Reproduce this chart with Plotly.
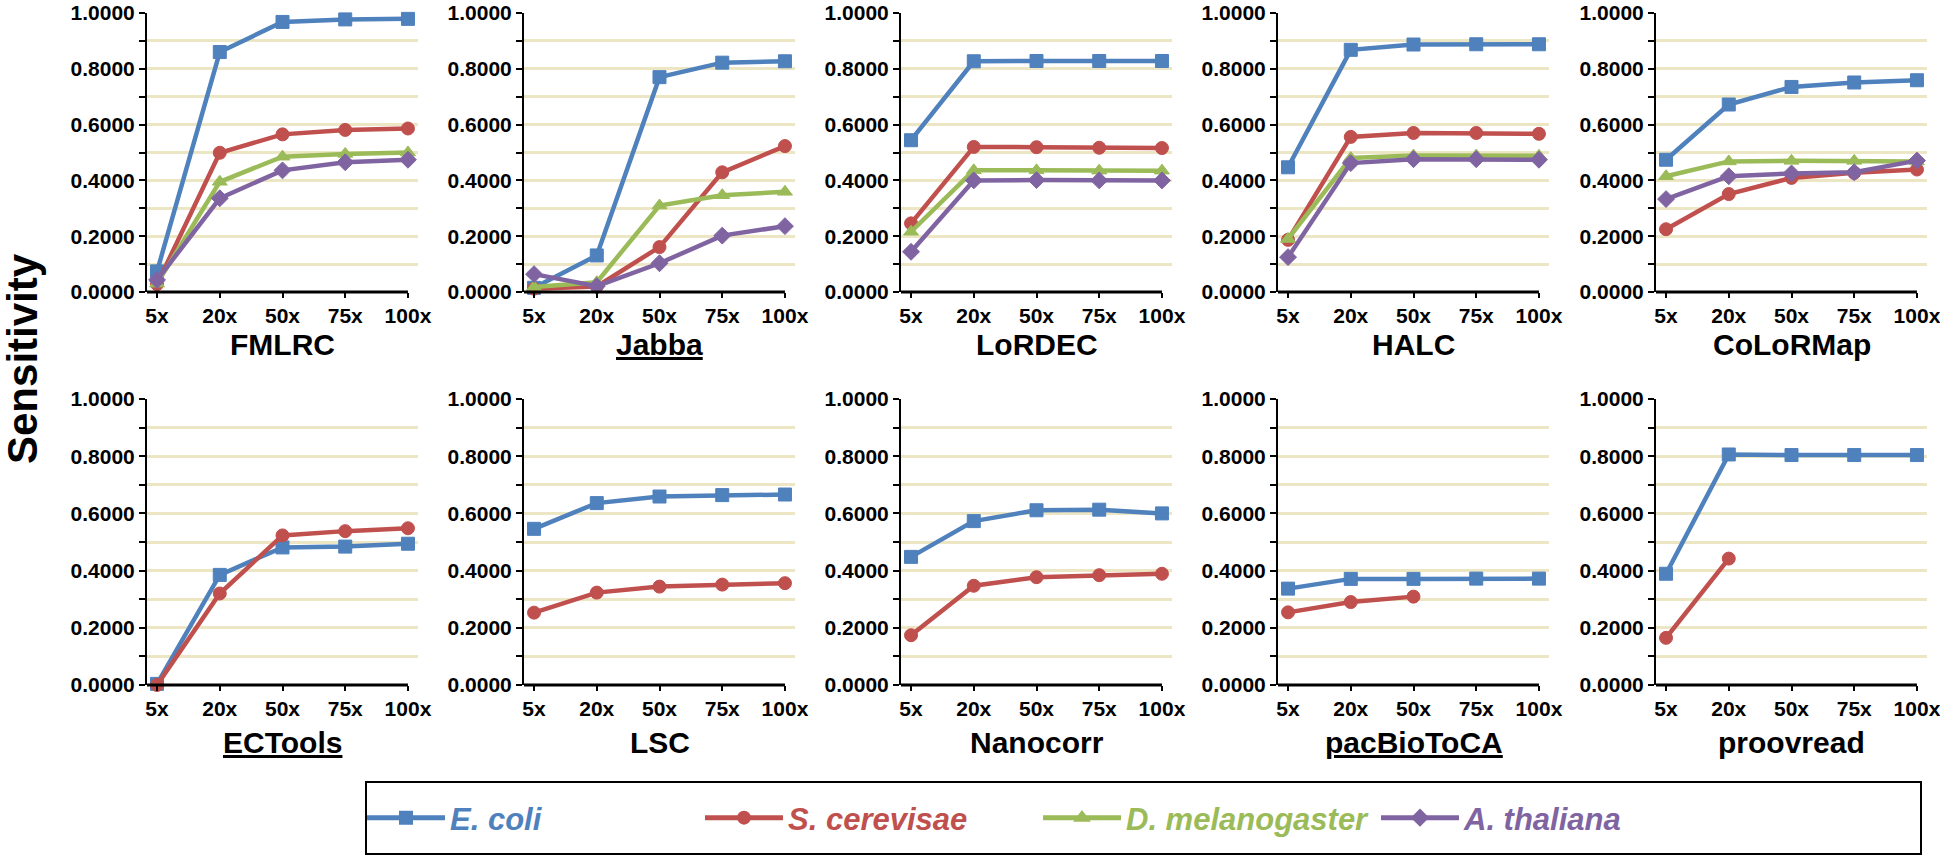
import plotly.graph_objects as go

coverages = ["5x", "20x", "50x", "75x", "100x"]
tools = ["FMLRC", "Jabba", "LoRDEC", "HALC", "CoLoRMap",
         "ECTools", "LSC", "Nanocorr", "pacBioToCA", "proovread"]
underlined = ["Jabba", "ECTools", "pacBioToCA"]
species = ["E. coli", "S. cerevisae", "D. melanogaster", "A. thaliana"]
colors = ["#4f81bd", "#c0504d", "#9bbb59", "#8064a2"]
symbols = ["square", "circle", "triangle-up", "diamond"]
yticks = [0.0, 0.2, 0.4, 0.6, 0.8, 1.0]

# Sensitivity values per tool, per species (None = not available)
e_coli = {
    "FMLRC": [0.074, 0.860, 0.968, 0.977, 0.979],
    "Jabba": [0.015, 0.131, 0.770, 0.822, 0.827],
    "LoRDEC": [0.544, 0.827, 0.828, 0.828, 0.828],
    "HALC": [0.447, 0.868, 0.887, 0.888, 0.888],
    "CoLoRMap": [0.474, 0.672, 0.735, 0.751, 0.759],
    "ECTools": [0.004, 0.385, 0.481, 0.484, 0.494],
    "LSC": [0.546, 0.636, 0.659, 0.664, 0.666],
    "Nanocorr": [0.448, 0.573, 0.611, 0.613, 0.600],
    "pacBioToCA": [0.337, 0.371, 0.371, 0.372, 0.372],
    "proovread": [0.389, 0.806, 0.804, 0.804, 0.804],
}
s_cerevisae = {
    "FMLRC": [0.028, 0.499, 0.565, 0.581, 0.586],
    "Jabba": [0.012, 0.020, 0.161, 0.429, 0.523],
    "LoRDEC": [0.246, 0.520, 0.519, 0.517, 0.516],
    "HALC": [0.187, 0.556, 0.570, 0.570, 0.567],
    "CoLoRMap": [0.225, 0.351, 0.409, 0.427, 0.439],
    "ECTools": [0.000, 0.320, 0.523, 0.538, 0.548],
    "LSC": [0.253, 0.323, 0.344, 0.351, 0.356],
    "Nanocorr": [0.174, 0.347, 0.377, 0.384, 0.389],
    "pacBioToCA": [0.254, 0.290, 0.309, None, None],
    "proovread": [0.165, 0.442, None, None, None],
}
d_melanogaster = {
    "FMLRC": [0.030, 0.395, 0.485, 0.495, 0.500],
    "Jabba": [0.018, 0.035, 0.310, 0.347, 0.359],
    "LoRDEC": [0.216, 0.436, 0.436, 0.435, 0.435],
    "HALC": [0.190, 0.480, 0.489, 0.489, 0.488],
    "CoLoRMap": [0.415, 0.468, 0.470, 0.470, 0.468],
}
a_thaliana = {
    "FMLRC": [0.043, 0.336, 0.436, 0.465, 0.474],
    "Jabba": [0.064, 0.021, 0.103, 0.202, 0.236],
    "LoRDEC": [0.144, 0.400, 0.401, 0.400, 0.400],
    "HALC": [0.125, 0.462, 0.476, 0.476, 0.474],
    "CoLoRMap": [0.333, 0.415, 0.425, 0.429, 0.471],
}
series_data = [e_coli, s_cerevisae, d_melanogaster, a_thaliana]

W, H = 1940, 856
col_left = [147, 524, 901, 1278, 1656]
panel_w = 271
row_px = [(13, 292), (399, 685)]
title_y = [344, 742]
xr = [-0.16, 4.16]
grid_col = "#ede6c4"
FONT = "Liberation Sans, Arial, sans-serif"

fig = go.Figure()
layout = {}
annotations = []
shapes = []

for i, tool in enumerate(tools):
    r, c = divmod(i, 5)
    n = i + 1
    xa = "xaxis" if n == 1 else f"xaxis{n}"
    ya = "yaxis" if n == 1 else f"yaxis{n}"
    xref = "x" if n == 1 else f"x{n}"
    yref = "y" if n == 1 else f"y{n}"
    x0 = col_left[c] / W
    x1 = (col_left[c] + panel_w) / W
    top, bot = row_px[r]
    y0 = (H - bot) / H
    y1 = (H - top) / H
    layout[xa] = dict(
        domain=[x0, x1], anchor=yref, type="category", range=xr,
        showline=False, showgrid=False, zeroline=False, automargin=False,
        ticklabeloverflow="allow",
        ticks="outside", ticklen=5, tickwidth=2, tickcolor="black",
        tickfont=dict(family=FONT, size=21, color="black", weight="bold"),
        fixedrange=True,
    )
    layout[ya] = dict(
        domain=[y0, y1], anchor=xref, range=[0, 1], automargin=False,
        ticklabeloverflow="allow",
        tickvals=yticks, tickformat=".4f",
        showline=True, linecolor="black", linewidth=2,
        ticks="outside", ticklen=6, tickwidth=2, tickcolor="black",
        showgrid=True, gridcolor=grid_col, gridwidth=3,
        minor=dict(dtick=0.1, ticks="outside", ticklen=6, tickwidth=2,
                   tickcolor="black", showgrid=True, gridcolor=grid_col, gridwidth=3),
        zeroline=False,
        tickfont=dict(family=FONT, size=21, color="black", weight="bold"),
        fixedrange=True,
    )
    # x axis line from y axis to last category
    shapes.append(dict(type="line", xref=xref, yref=f"{yref} domain",
                       x0=xr[0], x1=len(coverages) - 1, y0=0, y1=0,
                       line=dict(color="black", width=3), layer="above"))
    label = f"<u>{tool}</u>" if tool in underlined else tool
    annotations.append(dict(
        text=label, xref="paper", yref="paper",
        x=(x0 + x1) / 2, y=(H - title_y[r]) / H,
        xanchor="center", yanchor="middle", showarrow=False,
        font=dict(family=FONT, size=30, color="black", weight="bold"),
    ))
    for k, sp in enumerate(species):
        d = series_data[k]
        if tool not in d:
            continue
        fig.add_trace(go.Scatter(
            x=coverages, y=d[tool], mode="lines+markers",
            name=f'<span style="color:{colors[k]}">{sp}</span>',
            legendgroup=sp, showlegend=(i == 0),
            line=dict(color=colors[k], width=4.5),
            marker=dict(symbol=symbols[k], size=13, color=colors[k],
                        line=dict(color=colors[k], width=1)),
            xaxis=xref, yaxis=yref, cliponaxis=False,
            connectgaps=False,
        ))

annotations.append(dict(
    text="Sensitivity", xref="paper", yref="paper",
    x=22 / W, y=(H - 359) / H, textangle=-90,
    xanchor="center", yanchor="middle", showarrow=False,
    font=dict(family=FONT, size=42, color="black", weight="bold"),
))

# legend box
shapes.append(dict(type="rect", xref="paper", yref="paper",
                   x0=366 / W, x1=1921 / W, y0=(H - 854) / H, y1=(H - 782) / H,
                   line=dict(color="black", width=2), fillcolor="rgba(0,0,0,0)"))

fig.update_layout(
    width=W, height=H,
    margin=dict(l=0, r=0, t=0, b=0, autoexpand=False),
    paper_bgcolor="white", plot_bgcolor="white",
    showlegend=True,
    legend=dict(
        orientation="h", x=362 / W, y=(H - 818) / H,
        xanchor="left", yanchor="middle",
        entrywidth=245, entrywidthmode="pixels",
        itemwidth=78,
        bgcolor="rgba(0,0,0,0)", borderwidth=0,
        font=dict(family=FONT, size=31, style="italic", weight="bold"),
        itemsizing="constant",
    ),
    annotations=annotations,
    shapes=shapes,
    **layout,
)

fig.write_html(
    "out.html",
    config={"displayModeBar": False},
    post_script="document.body.style.margin='0';document.body.style.overflow='hidden';",
)
